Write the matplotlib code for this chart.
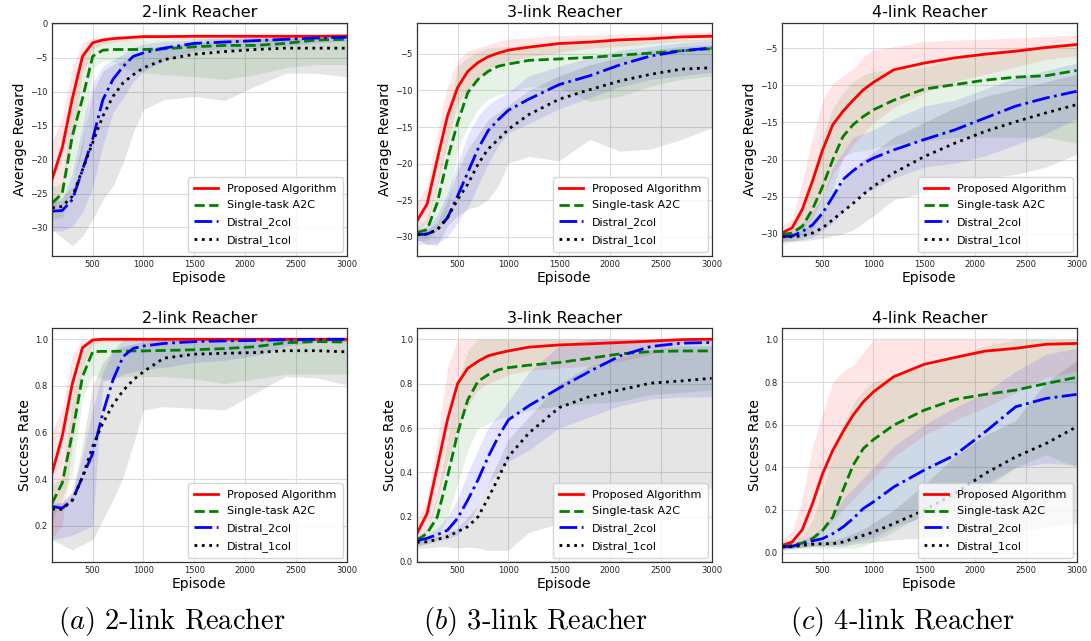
import matplotlib
matplotlib.use("Agg")
import matplotlib.pyplot as plt
import numpy as np

plt.rcParams["mathtext.fontset"] = "cm"

EPISODES = [100, 200, 300, 400, 500, 600, 700, 800, 900, 1000, 1200, 1500, 1800, 2100, 2400, 2700, 3000]
METHODS = ["Proposed Algorithm", "Single-task A2C", "Distral_2col", "Distral_1col"]
COLORS = ["r", "g", "b", "k"]
STYLES = ["-", "--", "-.", ":"]
LINKS = ["2-link Reacher", "3-link Reacher", "4-link Reacher"]
CAPTIONS = ["$(a)$ 2-link Reacher", "$(b)$ 3-link Reacher", "$(c)$ 4-link Reacher"]

# ---- Average reward, 2-link ----
R2_MEAN = [
    [-22.9, -18.3, -11.0, -4.8, -2.8, -2.4, -2.2, -2.1, -2.0, -1.9, -1.9, -1.85, -1.85, -1.85, -1.85, -1.85, -1.8],
    [-26.4, -25.0, -16.5, -11.0, -4.8, -3.9, -3.8, -3.8, -3.8, -3.8, -3.7, -3.4, -3.2, -3.2, -2.9, -2.4, -2.3],
    [-27.6, -27.5, -25.9, -21.5, -17.0, -11.2, -8.2, -6.3, -4.8, -4.3, -3.6, -2.9, -2.7, -2.5, -2.3, -2.1, -2.0],
    [-27.1, -26.9, -25.4, -21.5, -17.5, -13.6, -10.7, -8.7, -7.5, -6.5, -5.3, -4.5, -4.1, -3.8, -3.6, -3.6, -3.6],
]
R2_LO = [
    [-28.5, -24.0, -17.0, -7.5, -3.8, -3.0, -2.7, -2.5, -2.4, -2.3, -2.3, -2.3, -2.5, -2.6, -2.6, -2.3, -2.1],
    [-28.8, -28.5, -24.0, -18.5, -6.5, -5.5, -5.5, -6.5, -7.0, -7.2, -7.5, -7.8, -8.2, -7.5, -6.5, -6.0, -6.0],
    [-30.5, -30.5, -29.8, -27.8, -24.0, -18.0, -13.0, -11.0, -8.5, -7.0, -5.5, -4.0, -3.8, -3.6, -3.3, -2.8, -2.6],
    [-30.3, -31.5, -32.7, -31.3, -28.8, -25.9, -23.9, -20.5, -16.0, -12.6, -11.2, -10.7, -11.3, -9.2, -7.3, -7.3, -7.8],
]
R2_HI = [
    [-17.5, -14.0, -6.5, -2.8, -2.1, -1.9, -1.8, -1.7, -1.6, -1.6, -1.6, -1.6, -1.6, -1.6, -1.6, -1.6, -1.6],
    [-24.0, -23.5, -11.0, -4.8, -2.8, -2.4, -2.4, -2.4, -2.4, -2.4, -2.3, -2.2, -2.1, -2.0, -1.9, -1.8, -1.7],
    [-26.0, -26.0, -22.0, -15.0, -8.7, -6.3, -5.3, -4.5, -3.5, -3.0, -2.6, -2.4, -2.2, -2.0, -1.9, -1.8, -1.7],
    [-26.0, -25.5, -24.0, -17.0, -10.0, -7.0, -6.0, -5.5, -4.5, -4.0, -3.3, -2.8, -2.5, -2.3, -2.2, -2.2, -2.2],
]

# ---- Average reward, 3-link ----
R3_MEAN = [
    [-27.8, -25.5, -19.4, -13.5, -9.6, -7.4, -6.2, -5.4, -4.9, -4.5, -4.1, -3.6, -3.4, -3.1, -2.95, -2.7, -2.6],
    [-29.4, -29.0, -25.3, -19.4, -14.4, -10.3, -8.5, -7.4, -6.7, -6.4, -5.9, -5.7, -5.5, -5.2, -4.9, -4.6, -4.3],
    [-29.7, -29.6, -29.0, -27.4, -24.4, -21.2, -18.0, -15.5, -14.0, -12.7, -11.2, -9.2, -8.0, -6.5, -5.3, -4.6, -4.2],
    [-29.7, -29.6, -29.0, -27.4, -24.9, -22.8, -20.1, -18.0, -16.7, -15.3, -13.3, -11.2, -9.9, -8.7, -7.8, -7.1, -6.9],
]
R3_LO = [
    [-29.4, -28.0, -23.0, -17.0, -11.7, -9.9, -8.5, -7.0, -6.5, -6.0, -5.4, -4.8, -4.2, -4.0, -3.6, -3.3, -3.2],
    [-30.5, -30.5, -29.0, -27.0, -18.0, -14.9, -12.6, -11.2, -10.6, -10.3, -9.5, -9.6, -11.5, -10.8, -9.4, -8.5, -8.0],
    [-31.0, -31.0, -30.8, -30.0, -28.0, -26.0, -23.0, -20.0, -17.5, -15.8, -14.5, -12.5, -11.0, -9.5, -8.5, -8.0, -7.5],
    [-30.3, -31.0, -31.2, -28.5, -27.1, -26.2, -25.8, -24.9, -23.0, -19.9, -19.0, -19.6, -16.7, -18.3, -18.0, -16.7, -15.1],
]
R3_HI = [
    [-25.3, -23.0, -15.8, -9.4, -6.0, -4.6, -4.2, -3.8, -3.3, -3.0, -2.8, -2.5, -2.4, -2.3, -2.2, -2.1, -2.0],
    [-28.5, -27.5, -22.0, -14.0, -6.7, -5.5, -4.8, -4.2, -4.1, -4.0, -3.8, -3.5, -3.4, -3.3, -3.2, -3.1, -3.0],
    [-29.0, -28.5, -27.0, -24.0, -20.0, -16.0, -13.5, -12.0, -11.0, -10.3, -8.0, -6.7, -5.5, -4.5, -4.0, -3.5, -3.2],
    [-29.0, -29.0, -28.0, -25.0, -21.0, -18.0, -16.0, -14.0, -13.0, -12.0, -10.0, -8.0, -6.5, -5.5, -4.5, -4.0, -3.8],
]

# ---- Average reward, 4-link ----
R4_MEAN = [
    [-29.9, -29.2, -26.7, -22.9, -18.7, -15.3, -13.5, -12.0, -10.6, -9.6, -7.9, -7.0, -6.3, -5.8, -5.4, -4.9, -4.5],
    [-30.1, -29.9, -29.0, -26.7, -23.6, -20.0, -16.9, -15.3, -14.2, -13.3, -12.0, -10.5, -9.9, -9.3, -8.9, -8.7, -8.0],
    [-30.4, -30.3, -29.7, -28.8, -27.2, -25.0, -22.7, -21.5, -20.5, -19.8, -18.7, -17.3, -16.0, -14.4, -12.8, -11.7, -10.8],
    [-30.4, -30.4, -30.3, -29.9, -29.2, -28.1, -27.0, -25.9, -24.7, -23.6, -21.8, -19.6, -17.8, -16.2, -14.9, -13.7, -12.6],
]
R4_LO = [
    [-31.0, -30.5, -29.5, -28.0, -25.0, -22.0, -20.0, -18.0, -16.5, -15.0, -13.0, -11.0, -9.5, -8.5, -7.5, -6.5, -6.0],
    [-31.5, -31.0, -30.5, -29.5, -27.0, -24.0, -19.6, -19.0, -18.8, -18.5, -18.0, -17.5, -17.0, -17.0, -17.0, -17.0, -17.8],
    [-31.0, -31.0, -30.8, -30.5, -29.5, -28.5, -27.0, -25.5, -24.5, -24.0, -22.5, -21.0, -20.5, -19.5, -18.0, -16.5, -14.5],
    [-31.0, -31.0, -31.0, -30.8, -30.6, -30.3, -30.0, -29.5, -28.5, -27.6, -25.4, -24.5, -23.0, -22.5, -22.0, -21.0, -19.3],
]
R4_HI = [
    [-29.0, -28.0, -23.0, -17.0, -12.0, -9.7, -8.8, -7.7, -6.2, -5.2, -4.8, -4.1, -3.9, -3.8, -3.6, -3.4, -3.2],
    [-30.0, -29.5, -27.0, -22.0, -17.0, -13.0, -11.0, -9.5, -8.6, -8.1, -8.0, -7.5, -6.5, -5.5, -5.0, -4.5, -4.3],
    [-30.0, -29.5, -28.5, -27.0, -25.0, -21.0, -19.0, -17.0, -16.5, -16.0, -14.5, -12.8, -12.0, -10.5, -9.0, -8.0, -7.0],
    [-30.0, -30.0, -29.5, -28.5, -27.0, -25.0, -23.0, -21.5, -20.0, -19.0, -17.0, -15.0, -13.0, -11.5, -10.5, -9.5, -8.5],
]

# ---- Success rate, 2-link ----
S2_MEAN = [
    [0.426, 0.583, 0.81, 0.964, 0.997, 1.0, 1.0, 1.0, 1.0, 1.0, 1.0, 1.0, 1.0, 1.0, 1.0, 1.0, 1.0],
    [0.297, 0.383, 0.597, 0.84, 0.947, 0.948, 0.948, 0.949, 0.95, 0.95, 0.952, 0.955, 0.96, 0.968, 0.985, 0.99, 0.988],
    [0.283, 0.276, 0.31, 0.41, 0.51, 0.683, 0.826, 0.926, 0.961, 0.971, 0.982, 0.99, 0.993, 0.995, 0.998, 1.0, 1.0],
    [0.271, 0.271, 0.31, 0.41, 0.54, 0.64, 0.72, 0.78, 0.826, 0.861, 0.919, 0.936, 0.94, 0.943, 0.951, 0.951, 0.946],
]
S2_LO = [
    [0.15, 0.2, 0.55, 0.88, 0.98, 0.99, 0.99, 0.99, 0.99, 0.99, 0.99, 0.99, 0.99, 0.99, 0.99, 0.99, 0.99],
    [0.22, 0.32, 0.42, 0.75, 0.85, 0.83, 0.83, 0.84, 0.84, 0.84, 0.84, 0.83, 0.81, 0.83, 0.85, 0.85, 0.85],
    [0.14, 0.15, 0.16, 0.18, 0.2, 0.82, 0.83, 0.85, 0.86, 0.87, 0.88, 0.9, 0.91, 0.93, 0.97, 0.99, 0.99],
    [0.14, 0.12, 0.097, 0.12, 0.14, 0.226, 0.31, 0.41, 0.55, 0.697, 0.711, 0.704, 0.697, 0.77, 0.84, 0.835, 0.804],
]
S2_HI = [
    [0.6, 0.7, 0.93, 1.0, 1.0, 1.0, 1.0, 1.0, 1.0, 1.0, 1.0, 1.0, 1.0, 1.0, 1.0, 1.0, 1.0],
    [0.38, 0.4, 0.75, 0.93, 1.0, 1.0, 1.0, 1.0, 1.0, 1.0, 1.0, 1.0, 1.0, 1.0, 1.0, 1.0, 1.0],
    [0.3, 0.3, 0.35, 0.5, 0.7, 0.86, 0.95, 1.0, 1.0, 1.0, 1.0, 1.0, 1.0, 1.0, 1.0, 1.0, 1.0],
    [0.29, 0.3, 0.34, 0.55, 0.8, 0.9, 0.95, 0.97, 0.98, 0.99, 1.0, 1.0, 1.0, 1.0, 1.0, 1.0, 1.0],
]

# ---- Success rate, 3-link ----
S3_MEAN = [
    [0.126, 0.216, 0.426, 0.637, 0.80, 0.869, 0.9, 0.925, 0.937, 0.947, 0.964, 0.974, 0.979, 0.985, 0.991, 0.998, 1.0],
    [0.096, 0.126, 0.2, 0.38, 0.577, 0.727, 0.81, 0.84, 0.862, 0.872, 0.883, 0.895, 0.914, 0.934, 0.944, 0.947, 0.947],
    [0.093, 0.104, 0.12, 0.14, 0.194, 0.276, 0.366, 0.47, 0.56, 0.637, 0.70, 0.78, 0.855, 0.925, 0.967, 0.982, 0.985],
    [0.086, 0.088, 0.099, 0.111, 0.134, 0.156, 0.2, 0.284, 0.374, 0.471, 0.577, 0.692, 0.742, 0.772, 0.802, 0.812, 0.824],
]
S3_LO = [
    [0.09, 0.13, 0.28, 0.45, 0.6, 0.7, 0.77, 0.8, 0.82, 0.84, 0.86, 0.87, 0.88, 0.9, 0.93, 0.98, 0.99],
    [0.07, 0.08, 0.1, 0.2, 0.35, 0.5, 0.6, 0.62, 0.64, 0.65, 0.68, 0.7, 0.71, 0.72, 0.75, 0.76, 0.77],
    [0.07, 0.08, 0.09, 0.1, 0.12, 0.17, 0.25, 0.35, 0.4, 0.45, 0.5, 0.6, 0.65, 0.7, 0.73, 0.74, 0.74],
    [0.06, 0.06, 0.065, 0.065, 0.06, 0.065, 0.06, 0.05, 0.05, 0.05, 0.13, 0.17, 0.2, 0.22, 0.25, 0.29, 0.33],
]
S3_HI = [
    [0.18, 0.28, 0.55, 0.87, 1.0, 1.0, 1.0, 1.0, 1.0, 1.0, 1.0, 1.0, 1.0, 1.0, 1.0, 1.0, 1.0],
    [0.11, 0.15, 0.3, 0.55, 0.8, 0.95, 1.0, 1.0, 1.0, 1.0, 1.0, 1.0, 1.0, 1.0, 1.0, 1.0, 1.0],
    [0.11, 0.12, 0.15, 0.2, 0.28, 0.4, 0.5, 0.6, 0.66, 0.72, 0.85, 0.97, 1.0, 1.0, 1.0, 1.0, 1.0],
    [0.1, 0.1, 0.11, 0.13, 0.15, 0.2, 0.25, 0.35, 0.45, 0.55, 0.65, 0.8, 0.88, 0.92, 0.95, 0.97, 0.97],
]

# ---- Success rate, 4-link ----
S4_MEAN = [
    [0.034, 0.05, 0.108, 0.23, 0.371, 0.48, 0.567, 0.645, 0.707, 0.754, 0.825, 0.883, 0.915, 0.945, 0.958, 0.977, 0.981],
    [0.027, 0.034, 0.045, 0.066, 0.105, 0.167, 0.293, 0.41, 0.488, 0.53, 0.598, 0.668, 0.718, 0.742, 0.762, 0.793, 0.822],
    [0.027, 0.03, 0.042, 0.055, 0.066, 0.089, 0.12, 0.16, 0.207, 0.238, 0.308, 0.387, 0.457, 0.566, 0.684, 0.723, 0.742],
    [0.027, 0.028, 0.034, 0.039, 0.042, 0.042, 0.05, 0.066, 0.081, 0.097, 0.136, 0.199, 0.277, 0.371, 0.449, 0.512, 0.59],
]
S4_LO = [
    [0.015, 0.02, 0.03, 0.05, 0.1, 0.15, 0.2, 0.25, 0.3, 0.35, 0.45, 0.55, 0.62, 0.68, 0.75, 0.82, 0.85],
    [0.01, 0.015, 0.02, 0.02, 0.02, 0.02, 0.02, 0.02, 0.03, 0.05, 0.1, 0.18, 0.2, 0.3, 0.4, 0.46, 0.4],
    [0.015, 0.02, 0.025, 0.03, 0.03, 0.035, 0.04, 0.05, 0.06, 0.07, 0.12, 0.17, 0.25, 0.32, 0.4, 0.42, 0.41],
    [0.02, 0.02, 0.025, 0.03, 0.03, 0.03, 0.03, 0.04, 0.045, 0.05, 0.06, 0.07, 0.08, 0.09, 0.1, 0.12, 0.14],
]
S4_HI = [
    [0.06, 0.1, 0.25, 0.5, 0.65, 0.8, 0.85, 0.88, 0.94, 1.0, 1.0, 1.0, 1.0, 1.0, 1.0, 1.0, 1.0],
    [0.04, 0.05, 0.08, 0.15, 0.3, 0.45, 0.6, 0.7, 0.76, 0.8, 0.83, 0.87, 0.92, 0.97, 1.0, 1.0, 1.0],
    [0.04, 0.05, 0.06, 0.08, 0.12, 0.18, 0.25, 0.3, 0.35, 0.4, 0.5, 0.6, 0.68, 0.75, 0.85, 0.93, 0.96],
    [0.035, 0.04, 0.045, 0.05, 0.055, 0.06, 0.07, 0.09, 0.11, 0.14, 0.2, 0.32, 0.45, 0.55, 0.62, 0.8, 0.9],
]

REWARD_MEAN = [R2_MEAN, R3_MEAN, R4_MEAN]
REWARD_LO = [R2_LO, R3_LO, R4_LO]
REWARD_HI = [R2_HI, R3_HI, R4_HI]
SUCCESS_MEAN = [S2_MEAN, S3_MEAN, S4_MEAN]
SUCCESS_LO = [S2_LO, S3_LO, S4_LO]
SUCCESS_HI = [S2_HI, S3_HI, S4_HI]

REWARD_YLIM = [(-34.2, 0.1), (-32.6, -0.8), (-33.0, -1.6)]
SUCCESS_YLIM = [(0.045, 1.048), (-0.003, 1.05), (-0.044, 1.053)]


def draw_panel(ax, mean, lo, hi, title, ylabel, ylim, yticks):
    x = np.array(EPISODES)
    for i, name in enumerate(METHODS):
        ax.fill_between(x, lo[i], hi[i], color=COLORS[i], alpha=0.1, linewidth=0)
        ax.plot(x, mean[i], color=COLORS[i], linestyle=STYLES[i], linewidth=2, label=name)
    ax.set_xlim(100, 3000)
    ax.set_ylim(*ylim)
    ax.set_xticks([500, 1000, 1500, 2000, 2500, 3000])
    ax.set_yticks(yticks)
    ax.tick_params(labelsize=6, length=0, pad=3, colors="#222222")
    ax.grid(True, color="#dddddd", linewidth=0.8)
    ax.set_axisbelow(True)
    for sp in ax.spines.values():
        sp.set_linewidth(0.9)
        sp.set_color("#333333")
    ax.set_title(title, fontsize=11.5, pad=4)
    ax.set_xlabel("Episode", fontsize=10, labelpad=1)
    ax.set_ylabel(ylabel, fontsize=10, labelpad=2)
    ax.legend(loc="lower right", fontsize=8, handlelength=2.2, borderpad=0.55,
              labelspacing=0.62, borderaxespad=0.35, framealpha=0.8, edgecolor="#cccccc")


if __name__ == "__main__":
    fig = plt.figure(figsize=(10.91, 6.41), dpi=100)
    lefts = [0.0477, 0.3822, 0.7168]
    width = 0.2700
    caption_x = [172 / 1091, 535 / 1091, 902 / 1091]
    for c in range(3):
        ax_top = fig.add_axes([lefts[c], 0.6006, width, 0.3635])
        rticks = [0, -5, -10, -15, -20, -25, -30] if c == 0 else [-5, -10, -15, -20, -25, -30]
        draw_panel(ax_top, REWARD_MEAN[c], REWARD_LO[c], REWARD_HI[c], LINKS[c],
                   "Average Reward", REWARD_YLIM[c], rticks)
        ax_bot = fig.add_axes([lefts[c], 0.1232, width, 0.365])
        sticks = [0.2, 0.4, 0.6, 0.8, 1.0] if c == 0 else [0.0, 0.2, 0.4, 0.6, 0.8, 1.0]
        draw_panel(ax_bot, SUCCESS_MEAN[c], SUCCESS_LO[c], SUCCESS_HI[c], LINKS[c],
                   "Success Rate", SUCCESS_YLIM[c], sticks)
        fig.text(caption_x[c], 0.03, CAPTIONS[c], ha="center", va="center",
                 fontsize=20.5, family="cmr10")

    fig.savefig("out.png", dpi=100)
    plt.close(fig)
